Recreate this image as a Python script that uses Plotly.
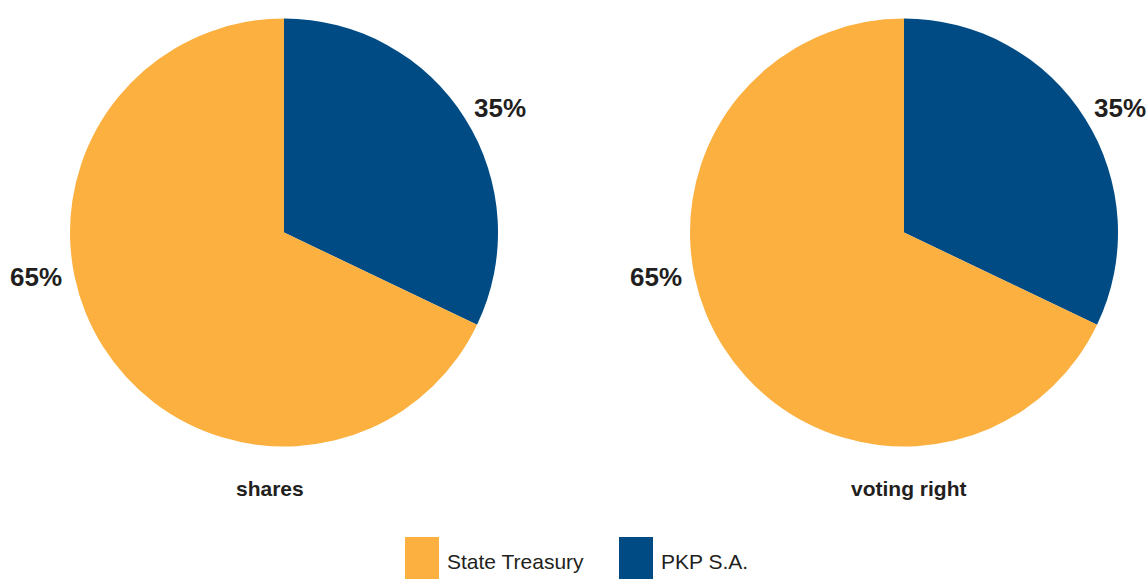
import plotly.graph_objects as go

# ownership structure, two pies
labels = ["State Treasury", "PKP S.A."]
colors = ["#FBB040", "#004B84"]
shares = [67.9, 32.1]          # slice sizes as drawn
voting_right = [67.9, 32.1]
pct_text = ["65%", "35%"]      # labels as printed
pie_titles = ["shares", "voting right"]

W, H = 1147, 579
FONT = "Liberation Sans, Arial, sans-serif"
TXT = "#231F20"


def px(x):
    return x / W


def py(y):
    return 1 - y / H


fig = go.Figure()

centers = [284, 904]
for cx, vals in zip(centers, [shares, voting_right]):
    # blue slice starts at 12 o'clock and runs clockwise
    fig.add_trace(go.Pie(
        labels=labels[::-1], values=vals[::-1], sort=False,
        direction="clockwise", rotation=0,
        marker=dict(colors=colors[::-1], line=dict(width=0)),
        textinfo="none", showlegend=False,
        domain=dict(x=[px(cx - 214), px(cx + 214)], y=[py(448), py(17)]),
    ))

annotations = []
bold26 = dict(size=26, family=FONT, color=TXT, weight="bold")
for cx in centers:
    annotations.append(dict(x=px(cx + 216), y=py(108), text=pct_text[1], font=bold26))
    annotations.append(dict(x=px(cx - 248), y=py(277), text=pct_text[0], font=bold26))
for cx, title in zip([270, 908], pie_titles):
    annotations.append(dict(x=px(cx), y=py(488), text=title,
                            font=dict(size=21, family=FONT, color=TXT, weight="bold")))
for a in annotations:
    a.update(xref="paper", yref="paper", showarrow=False,
             xanchor="center", yanchor="middle")

# manual legend with large square swatches
shapes = []
leg_x = [405, 619]
for x0, lab, col in zip(leg_x, labels, colors):
    shapes.append(dict(type="rect", xref="paper", yref="paper",
                       x0=px(x0), x1=px(x0 + 34), y0=py(579), y1=py(537),
                       fillcolor=col, line=dict(width=0)))
    annotations.append(dict(x=px(x0 + 40), y=py(561), text=lab,
                            xref="paper", yref="paper", showarrow=False,
                            xanchor="left", yanchor="middle",
                            font=dict(size=21, family=FONT, color=TXT)))

fig.update_layout(
    width=W, height=H, margin=dict(l=0, r=0, t=0, b=0),
    paper_bgcolor="white", plot_bgcolor="white",
    annotations=annotations, shapes=shapes,
)

fig.write_html("out.html", config={"displayModeBar": False},
               post_script="document.body.style.margin='0';")
